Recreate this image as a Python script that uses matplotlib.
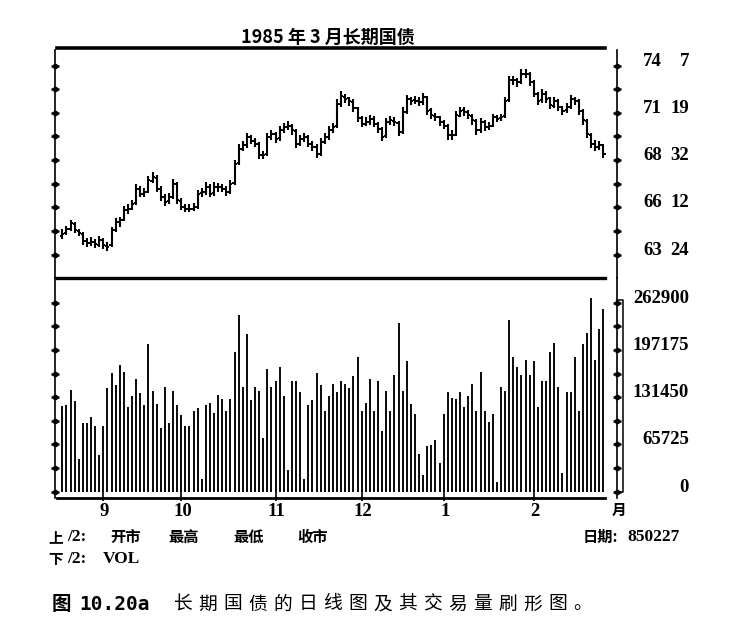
import numpy as np
import matplotlib
matplotlib.use("Agg")
import matplotlib.pyplot as plt
import matplotlib.transforms as mtransforms
from matplotlib.lines import Line2D

W, H = 738, 632

# ---- data ----
months = ["9", "10", "11", "12", "1", "2"]
month_start = [10, 29, 52, 73, 93, 115]   # bar index of first trading day

opens = [64.80, 64.95, 65.20, 65.45, 65.05, 64.90, 64.50, 64.40, 64.45, 64.30,
         64.55, 64.25, 64.30, 65.10, 65.55, 65.70, 66.20, 66.30, 66.60, 67.40,
         67.10, 67.25, 67.85, 68.00, 67.40, 66.95, 66.70, 66.95, 67.65, 66.75,
         66.40, 66.30, 66.30, 66.40, 67.15, 67.20, 67.50, 67.15, 67.50, 67.50,
         67.40, 67.25, 67.70, 68.80, 69.60, 69.80, 70.25, 70.05, 69.90, 69.25,
         69.30, 70.25, 70.45, 70.20, 70.65, 70.80, 70.90, 70.60, 69.90, 70.15,
         70.25, 69.90, 69.70, 69.35, 70.00, 70.25, 70.65, 70.85, 72.10, 72.50,
         72.40, 72.20, 71.85, 71.30, 71.00, 71.10, 71.25, 71.00, 70.70, 70.30,
         71.10, 71.15, 71.05, 70.55, 71.65, 72.35, 72.30, 72.25, 72.20, 72.45,
         71.75, 71.45, 71.35, 71.10, 70.90, 70.35, 70.40, 71.45, 71.75, 71.65,
         71.45, 71.15, 70.65, 71.10, 70.80, 70.90, 71.35, 71.30, 71.40, 72.30,
         73.40, 73.40, 73.30, 73.75, 73.75, 73.30, 72.65, 72.30, 72.65, 72.40,
         72.00, 72.25, 71.90, 71.75, 71.95, 72.35, 72.25, 71.70, 71.15, 70.40,
         69.90, 69.70, 69.80]
highs = [65.15, 65.35, 65.70, 65.55, 65.20, 65.00, 64.70, 64.75, 64.60, 64.80,
         64.70, 64.45, 65.30, 65.80, 65.85, 66.45, 66.55, 66.80, 67.65, 67.55,
         67.45, 68.10, 68.35, 68.15, 67.55, 67.10, 67.15, 67.95, 67.80, 66.90,
         66.55, 66.55, 66.60, 67.35, 67.45, 67.75, 67.65, 67.75, 67.70, 67.65,
         67.55, 67.90, 69.00, 69.85, 70.05, 70.50, 70.40, 70.20, 70.00, 69.50,
         70.50, 70.65, 70.55, 70.85, 71.05, 71.15, 71.00, 70.70, 70.40, 70.50,
         70.35, 70.05, 69.85, 70.20, 70.50, 70.85, 71.05, 72.35, 72.80, 72.65,
         72.50, 72.35, 71.95, 71.40, 71.35, 71.50, 71.40, 71.10, 70.80, 71.30,
         71.40, 71.35, 71.15, 71.90, 72.60, 72.50, 72.55, 72.45, 72.70, 72.55,
         71.85, 71.60, 71.45, 71.20, 71.00, 70.65, 71.70, 71.95, 71.90, 71.75,
         71.55, 71.25, 71.30, 71.20, 71.10, 71.55, 71.50, 71.55, 72.50, 73.65,
         73.65, 73.55, 74.05, 74.05, 73.85, 73.40, 72.75, 72.90, 72.80, 72.50,
         72.50, 72.35, 72.00, 72.15, 72.60, 72.50, 72.35, 71.80, 71.25, 70.50,
         70.10, 70.05, 69.90]
lows = [64.60, 64.85, 65.05, 64.95, 64.80, 64.30, 64.20, 64.25, 64.10, 64.20,
        64.05, 63.95, 64.20, 65.00, 65.30, 65.60, 66.00, 66.20, 66.50, 66.95,
        66.95, 67.15, 67.70, 67.20, 66.75, 66.45, 66.55, 66.85, 66.55, 66.20,
        66.10, 66.10, 66.15, 66.30, 66.95, 67.05, 66.95, 67.00, 67.25, 67.20,
        67.00, 67.10, 67.60, 68.70, 69.50, 69.65, 69.85, 69.70, 69.05, 69.05,
        69.20, 70.10, 69.95, 70.05, 70.50, 70.65, 70.40, 69.65, 69.75, 70.00,
        69.70, 69.50, 69.10, 69.20, 69.85, 70.10, 70.50, 70.75, 71.95, 72.15,
        72.00, 71.65, 71.10, 70.80, 70.85, 70.95, 70.80, 70.50, 70.05, 70.20,
        70.95, 70.85, 70.30, 70.45, 71.55, 72.05, 72.10, 72.00, 72.05, 71.50,
        71.25, 71.15, 70.90, 70.70, 70.10, 70.10, 70.30, 71.35, 71.45, 71.25,
        70.95, 70.40, 70.50, 70.60, 70.65, 70.80, 71.10, 71.15, 71.30, 72.20,
        73.15, 73.05, 73.20, 73.55, 73.10, 72.45, 72.05, 72.15, 72.15, 71.80,
        71.85, 71.70, 71.50, 71.60, 71.80, 72.05, 71.50, 70.95, 70.20, 69.65,
        69.50, 69.55, 69.10]
closes = [64.92, 65.19, 65.51, 65.10, 64.95, 64.49, 64.40, 64.46, 64.33, 64.55,
          64.27, 64.18, 65.10, 65.56, 65.65, 66.21, 66.30, 66.57, 67.40, 67.13,
          67.22, 67.86, 68.05, 67.40, 66.94, 66.67, 66.94, 67.68, 66.76, 66.39,
          66.30, 66.30, 66.39, 67.13, 67.22, 67.50, 67.13, 67.50, 67.50, 67.40,
          67.22, 67.68, 68.78, 69.61, 69.80, 70.26, 70.07, 69.89, 69.25, 69.25,
          70.26, 70.44, 70.17, 70.63, 70.81, 70.90, 70.63, 69.89, 70.17, 70.26,
          69.89, 69.71, 69.34, 69.98, 70.26, 70.63, 70.81, 72.10, 72.51, 72.38,
          72.23, 71.86, 71.31, 71.00, 71.09, 71.27, 71.00, 70.72, 70.26, 71.09,
          71.18, 71.09, 70.53, 71.64, 72.38, 72.28, 72.28, 72.19, 72.47, 71.73,
          71.46, 71.36, 71.09, 70.90, 70.35, 70.35, 71.46, 71.73, 71.64, 71.46,
          71.18, 70.63, 71.09, 70.81, 70.90, 71.36, 71.27, 71.36, 72.28, 73.39,
          73.39, 73.30, 73.76, 73.76, 73.30, 72.65, 72.28, 72.65, 72.38, 72.01,
          72.28, 71.92, 71.73, 71.92, 72.38, 72.28, 71.73, 71.18, 70.44, 69.89,
          69.71, 69.80, 69.34]
volume = [119900, 120800, 141500, 126800, 45200, 95900, 95400, 104600, 90800, 50700,
          91700, 144300, 165000, 148900, 176100, 166000, 117600, 133700, 156300, 137400,
          121200, 205100, 140600, 122200, 89000, 146100, 95400, 139700, 120800, 106000,
          90800, 90800, 111600, 116600, 17500, 121200, 124000, 109700, 134200, 128600,
          112900, 129100, 195000, 246200, 145200, 219000, 128200, 145200, 140600, 74200,
          170600, 145200, 154400, 172900, 133700, 30000, 154400, 154400, 139200, 17500,
          121200, 128200, 165000, 148900, 112500, 133700, 149400, 138300, 154400, 149800,
          144300, 160900, 186700, 111600, 123500, 156700, 112900, 154400, 84400, 140600,
          112000, 162300, 235100, 140600, 182100, 122200, 108300, 52100, 23000, 63200,
          64500, 72400, 40100, 108300, 138300, 130000, 128600, 138300, 117600, 133700,
          149800, 112900, 166000, 112900, 96800, 107400, 13800, 145200, 140600, 238300,
          187600, 172900, 162300, 183000, 162700, 182100, 117600, 154400, 154400, 195000,
          206500, 145200, 26300, 138300, 138300, 187600, 112000, 205100, 220400, 268800,
          183000, 225900, 254500]

price_ticks = [63.75, 66.375, 69.0, 71.59375, 74.21875]
price_labels = [("63", "24"), ("66", "12"), ("68", "32"), ("71", "19"), ("74", "7")]
vol_ticks = [0, 65725, 131450, 197175, 262900]
vol_labels = ["0", "65725", "131450", "197175", "262900"]

SERIF = ["Liberation Serif", "Noto Sans CJK SC"]
CJK = ["Noto Sans CJK SC", "DejaVu Sans"]


def fpos(x, y):
    # pixel -> figure fraction
    return x / W, 1 - y / H


fig = plt.figure(figsize=(W / 100, H / 100), dpi=100)
fig.patch.set_facecolor("white")

xl, xr = 55, 616.5           # axis lines (pixels)
x0px, step = 62.3, 4.1       # first bar pixel, pixels per bar
xlim = ((xl - x0px) / step, (xr - x0px) / step)
line_x = [(57 - x0px) / step, (605 - x0px) / step]

ax_p = fig.add_axes([xl / W, 1 - 278 / H, (xr - xl) / W, 228 / H])
ax_v = fig.add_axes([xl / W, 1 - 498 / H, (xr - xl) / W, 220 / H])

# price scale: 74-07 at px 65.5, 63-24 at px 254.8
pp = (price_ticks[-1] - price_ticks[0]) / (254.8 - 65.5)
ax_p.set_ylim(price_ticks[0] - (278 - 254.8) * pp, price_ticks[-1] + (65.5 - 50) * pp)
# volume scale: 0 at px 491.7, 262900 at px 302.7
vp = vol_ticks[-1] / (491.7 - 302.7)
ax_v.set_ylim(-(498 - 491.7) * vp, vol_ticks[-1] + (302.7 - 278) * vp)

for ax in (ax_p, ax_v):
    ax.set_xlim(*xlim)
    ax.set_facecolor("none")
    ax.set_xticks([])
    for s in ("top", "bottom"):
        ax.spines[s].set_visible(False)
    for s in ("left", "right"):
        ax.spines[s].set_linewidth(1.2)

x = np.arange(len(closes))

# OHLC bars
ax_p.vlines(x, lows, highs, color="k", lw=1.5)
ax_p.hlines(opens, x - 0.5, x, color="k", lw=1.4)
ax_p.hlines(closes, x, x + 0.5, color="k", lw=1.4)

# volume brushes
ax_v.vlines(x, 0, volume, color="k", lw=1.35)

# heavy rules
bt_p = mtransforms.blended_transform_factory(ax_p.transData, ax_p.transAxes)
bt_v = mtransforms.blended_transform_factory(ax_v.transData, ax_v.transAxes)
ax_p.plot(line_x, [1.0075, 1.0075], color="k", lw=2.6, transform=bt_p, clip_on=False)
ax_p.plot(line_x, [0, 0], color="k", lw=2.4, transform=bt_p, clip_on=False)
ax_v.plot(line_x, [0, 0], color="k", lw=2.0, transform=bt_v, clip_on=False)

# month marks and labels
ax_v.vlines(month_start, -(501 - 491.7) * vp, 0, color="k", lw=1.2, clip_on=False)
for m, xs in zip(months, month_start):
    ax_v.text(xs + 0.3, -(511 - 498) / 220, m, transform=bt_v, ha="center", va="center",
              fontsize=13.5, fontweight="bold", family=SERIF)
fig.text(*fpos(619, 510), "月", ha="center", va="center", fontsize=10.5,
         fontweight="bold", family=CJK)

# axis ticks with dots on both spines
p_minor = [(a + b) / 2 for a, b in zip(price_ticks[:-1], price_ticks[1:])]
v_minor = [(a + b) / 2 for a, b in zip(vol_ticks[:-1], vol_ticks[1:])]
for ax, maj, mnr in ((ax_p, price_ticks, p_minor), (ax_v, vol_ticks, v_minor)):
    ax.set_yticks(maj)
    ax.set_yticks(mnr, minor=True)
    ax.tick_params(which="both", direction="inout", length=6, width=1.8,
                   left=True, right=True, labelleft=False, labelright=False)
    allt = list(maj) + list(mnr)
    for side in (0, 1):
        ax.plot([side] * len(allt), allt, "o", ms=3.0, color="k",
                transform=ax.get_yaxis_transform(), clip_on=False)

# right-hand labels
tp = mtransforms.offset_copy(
    mtransforms.blended_transform_factory(fig.transFigure, ax_p.transData),
    fig=fig, y=4.5, units="dots")
for v, (a, b) in zip(price_ticks, price_labels):
    ax_p.text(643 / W, v, a, transform=tp, ha="left", va="center",
              fontsize=13.5, fontweight="bold", family=SERIF)
    ax_p.text(689 / W, v, b, transform=tp, ha="right", va="center",
              fontsize=13.5, fontweight="bold", family=SERIF)
tv = mtransforms.offset_copy(
    mtransforms.blended_transform_factory(fig.transFigure, ax_v.transData),
    fig=fig, y=4.5, units="dots")
for v, lab in zip(vol_ticks, vol_labels):
    ax_v.text(689 / W, v, lab, transform=tv, ha="right", va="center",
              fontsize=13.5, fontweight="bold", family=SERIF)

# second bracket line beside the volume scale
fig.add_artist(Line2D([xr / W, 623 / W, 623 / W, xr / W],
                      [1 - 300 / H, 1 - 300 / H, 1 - 492 / H, 1 - 492 / H],
                      color="k", lw=1.1))

# title
fig.text(*fpos(328, 37), "1985 年 3 月长期国债", ha="center", va="center",
         fontsize=13, fontweight="bold", family=CJK)

# legend text under the chart
fig.text(*fpos(48, 537), "上", ha="left", va="center", fontsize=10.5,
         fontweight="bold", family=CJK)
fig.text(*fpos(67, 537), "/2:", ha="left", va="center", fontsize=12.5,
         fontweight="bold", family=SERIF)
for lab, xp in zip(["开市", "最高", "最低", "收市"], [110, 168, 233, 297]):
    fig.text(*fpos(xp, 537), lab, ha="left", va="center", fontsize=11,
             fontweight="bold", family=CJK)
fig.text(*fpos(48, 559), "下", ha="left", va="center", fontsize=10.5,
         fontweight="bold", family=CJK)
fig.text(*fpos(67, 559), "/2:", ha="left", va="center", fontsize=12.5,
         fontweight="bold", family=SERIF)
fig.text(*fpos(103, 559), "VOL", ha="left", va="center", fontsize=12.5,
         fontweight="bold", family=SERIF)
fig.text(*fpos(583, 537), "日期:", ha="left", va="center", fontsize=11,
         fontweight="bold", family=CJK)
fig.text(*fpos(627, 537), "850227", ha="left", va="center", fontsize=12.5,
         fontweight="bold", family=SERIF)

# caption
fig.text(*fpos(52, 604), "图", ha="left", va="center", fontsize=14,
         fontweight="bold", family=CJK)
fig.text(*fpos(79, 604), "10.20a", ha="left", va="center", fontsize=14,
         fontweight="bold", family=["DejaVu Sans Mono"])
caption = "长期国债的日线图及其交易量刷形图。"
for i, ch in enumerate(caption):
    fig.text(*fpos(183 + 25 * i, 604), ch, ha="center", va="center",
             fontsize=13.5, family=CJK)

fig.savefig("out.png", dpi=100, facecolor="white")
